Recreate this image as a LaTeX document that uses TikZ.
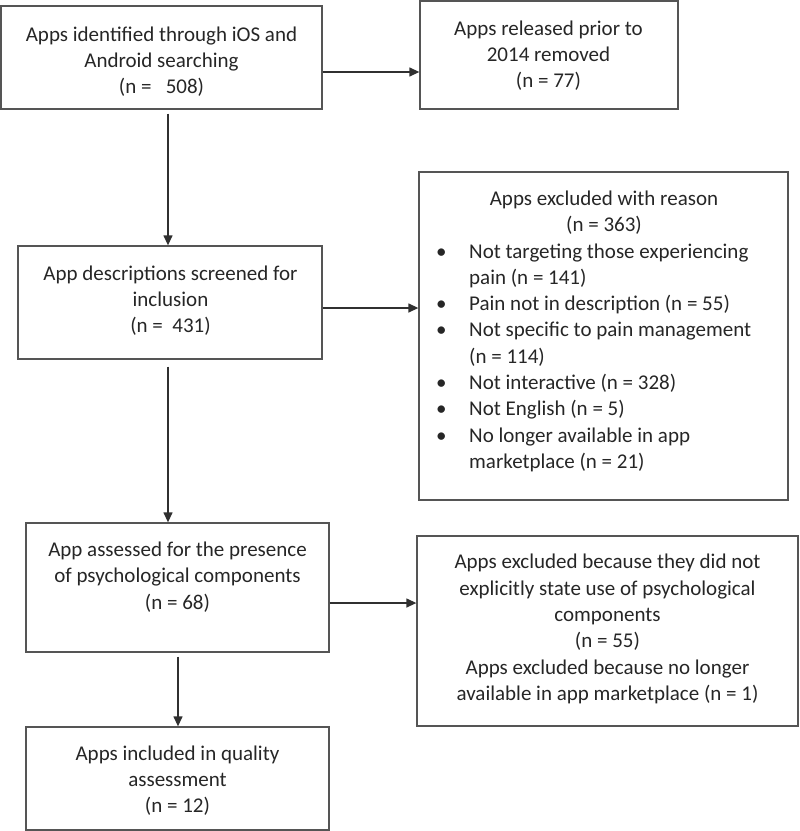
\documentclass[tikz,border=0pt]{standalone}
\usepackage{fontspec}
\setmainfont{Carlito}
\usetikzlibrary{arrows.meta}
\definecolor{boxc}{HTML}{555555}
\definecolor{linec}{HTML}{303030}
\definecolor{txtc}{HTML}{262626}
\begin{document}
\begin{tikzpicture}[x=1pt,y=-1pt,
  box/.style 2 args={draw=boxc, line width=1.3pt, inner sep=0pt, minimum width=#1, minimum height=#2},
  txt/.style={text=txtc, font=\fontsize{21}{26.3}\selectfont, align=center, inner sep=0pt},
  arr/.style={draw=linec, line width=1.3pt, -{Triangle[length=10pt,width=9pt]}}]
\useasboundingbox (0,0) rectangle (800,831);
% boxes
\node[box={321pt}{103pt}] (b1) at (161.5,57.5) {};
\node[box={258pt}{108pt}] (b2) at (549,55) {};
\node[box={304pt}{113pt}] (b3) at (170,302.5) {};
\node[box={369pt}{328pt}] (b4) at (603.5,336) {};
\node[box={303pt}{129pt}] (b5) at (177.5,587.5) {};
\node[box={381pt}{190pt}] (b6) at (607.5,631) {};
\node[box={303pt}{103pt}] (b7) at (177.5,778.5) {};
% texts
\node[txt] (t1) at (161.5,61.5) {Apps identified through iOS and\\Android searching\\(n =\ \ \ 508)};
\node[txt] (t2) at (548.5,55.5) {Apps released prior to\\2014 removed\\(n = 77)};
\node[txt] (t3) at (170.5,300.5) {App descriptions screened for\\inclusion\\(n =\ \ 431)};
\node[txt] (t4h) at (604,213) {Apps excluded with reason\\(n = 363)};
\node[txt, anchor=west, align=left] (t4l) at (436,358) {%
\begin{tabular}{@{}p{33pt}@{}l@{}}
\textbullet & Not targeting those experiencing\\
 & pain (n = 141)\\
\textbullet & Pain not in description (n = 55)\\
\textbullet & Not specific to pain management\\
 & (n = 114)\\
\textbullet & Not interactive (n = 328)\\
\textbullet & Not English (n = 5)\\
\textbullet & No longer available in app\\
 & marketplace (n = 21)
\end{tabular}};
\node[txt] (t5) at (177.5,577) {App assessed for the presence\\of psychological components\\(n = 68)};
\node[txt] (t6) at (607.5,629) {Apps excluded because they did not\\explicitly state use of psychological\\components\\(n = 55)\\Apps excluded because no longer\\available in app marketplace (n = 1)};
\node[txt] (t7) at (177.5,780.5) {Apps included in quality\\assessment\\(n = 12)};
% connectors
\draw[arr] ([yshift=-14.5pt]b1.east) -- ([yshift=-14.5pt]b1.east -| b2.west);
\coordinate (s2) at ([shift={(6.5pt,-4pt)}]b1.south);
\draw[arr] (s2) -- (s2 |- b3.north);
\draw[arr] ([yshift=-5.5pt]b3.east) -- ([yshift=-5.5pt]b3.east -| b4.west);
\coordinate (s4) at ([shift={(-2pt,-7pt)}]b3.south);
\draw[arr] (s4) -- (s4 |- b5.north);
\draw[arr] ([yshift=-15.5pt]b5.east) -- ([yshift=-15.5pt]b5.east -| b6.west);
\coordinate (s6) at ([shift={(0.5pt,-4pt)}]b5.south);
\draw[arr] (s6) -- (s6 |- b7.north);
\end{tikzpicture}
\end{document}
